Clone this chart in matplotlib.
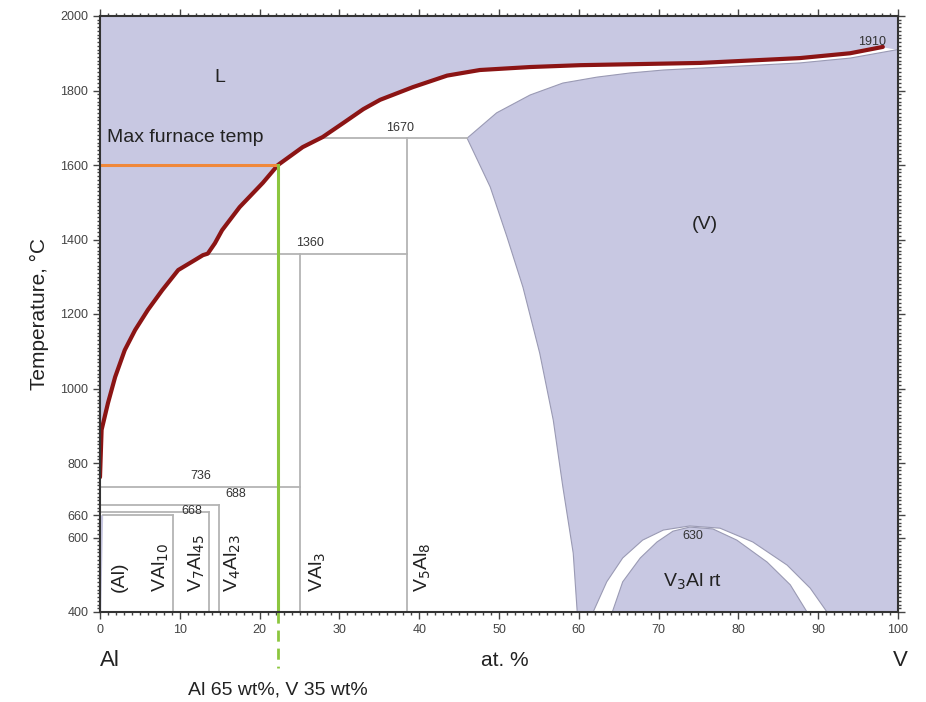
import numpy as np
import matplotlib.pyplot as plt
from matplotlib.ticker import MultipleLocator

plt.rcParams['font.family'] = ['Liberation Sans', 'DejaVu Sans']

# liquidus (at.% V, °C)
liq_x = [0, 0.2, 1.0, 1.9, 3.1, 4.4, 6.0, 7.8, 9.8, 11.9, 12.9, 13.5, 14.4, 15.3, 17.5,
         20.4, 22.3, 25.4, 27.9, 30.5, 33.0, 35.1, 39.2, 43.5, 47.6, 53.9, 60.2, 75.2,
         87.7, 94.0, 98.1]
liq_T = [762, 889, 961, 1031, 1103, 1157, 1211, 1264, 1318, 1345, 1358, 1362, 1390, 1425,
         1487, 1552, 1600, 1648, 1675, 1713, 1750, 1775, 1809, 1840, 1855, 1863, 1868, 1874,
         1887, 1900, 1917]

# (V) solid solution: solvus then solidus
solv_x = [59.8, 59.3, 58.0, 56.8, 55.1, 53.0, 51.0, 48.9, 46.0]
solv_T = [400, 558, 736, 915, 1095, 1272, 1407, 1541, 1672]
sol_x = [46.0, 49.7, 53.9, 58.0, 62.3, 66.4, 70.6, 75.2, 87.7, 94.0, 100]
sol_T = [1672, 1740, 1788, 1820, 1836, 1847, 1855, 1860, 1874, 1887, 1910]

# V3Al dome (outer two-phase boundary, inner single phase)
dome_out_x = [61.8, 63.5, 65.5, 68.0, 70.6, 73.9, 77.7, 81.8, 86.1, 89.0, 91.1]
dome_out_T = [400, 481, 545, 593, 620, 631, 625, 588, 526, 464, 400]
dome_in_x = [64.2, 65.5, 67.7, 69.8, 71.8, 73.9, 76.8, 79.8, 83.6, 86.5, 88.6]
dome_in_T = [400, 481, 545, 588, 617, 628, 623, 593, 534, 473, 400]

# invariant lines: (x_start, x_end, T)
horiz = [(0.4, 9.1, 660), (0, 13.7, 668), (0, 14.9, 688), (0, 25, 736),
         (13.5, 38.5, 1362), (28.0, 46.0, 1672)]
# compound lines: (x, T_top)
vert = [(9.1, 660), (13.7, 668), (14.9, 688), (25, 1362), (38.5, 1672)]

inv_labels = [(12.6, 748, '736'), (17.0, 700, '688'), (11.5, 654, '668'),
              (26.3, 1374, '1360'), (37.6, 1684, '1670'), (96.8, 1914, '1910'),
              (74.3, 588, '630')]
phases = [(2.4, '(Al)'), (7.6, r'VAl$_{10}$'), (12.1, r'V$_7$Al$_{45}$'),
          (16.6, r'V$_4$Al$_{23}$'), (27.3, r'VAl$_3$'), (40.5, r'V$_5$Al$_8$')]

furnace_T = 1600
alloy_x = 22.3

lav = '#c8c8e2'
grey = '#b4b4b4'
edge = '#9a9ab4'

fig = plt.figure(figsize=(9.26, 7.02), dpi=100)
ax = fig.add_axes([100 / 926, 1 - 612 / 702, 798 / 926, 596 / 702])
ax.set_xlim(0, 100)
ax.set_ylim(400, 2000)

# liquid region
ax.fill_between(liq_x + [100], liq_T + [1910], 2000, color=lav, lw=0)
# (Al)
ax.fill([0, 0.15, 0.4, 0], [400, 400, 660, 660], color=lav, lw=0)
# (V)
vx = solv_x + sol_x[1:] + [100]
vT = solv_T + sol_T[1:] + [400]
ax.fill(vx, vT, color=lav, lw=0)
ax.plot(solv_x, solv_T, color=edge, lw=0.8)
ax.plot(sol_x, sol_T, color=edge, lw=0.8)
ax.fill(dome_out_x, dome_out_T, color='white', lw=0)
ax.plot(dome_out_x, dome_out_T, color=edge, lw=0.8)
ax.fill(dome_in_x, dome_in_T, color=lav, lw=0)
ax.plot(dome_in_x, dome_in_T, color=edge, lw=0.8)

for x0, x1, t in horiz:
    ax.plot([x0, x1], [t, t], color=grey, lw=1.3)
for x, t in vert:
    ax.plot([x, x], [400, t], color=grey, lw=1.3)

ax.plot(liq_x, liq_T, color='#8b1414', lw=3, solid_capstyle='round', solid_joinstyle='round')

ax.plot([0, alloy_x], [furnace_T, furnace_T], color='#f0883a', lw=2.2)
ax.plot([alloy_x, alloy_x], [400, furnace_T], color='#8cc63f', lw=2.2)
ax.plot([alloy_x, alloy_x], [400, 250], color='#8cc63f', lw=2, ls=(0, (4, 2.5)), clip_on=False)

for x, t, s in inv_labels:
    ax.text(x, t, s, fontsize=9, color='#333333', ha='center', va='bottom')

for x, s in phases:
    ax.text(x, 455, s, rotation=90, fontsize=14, color='#222222', ha='center', va='bottom')

ax.text(15, 1834, 'L', fontsize=14, color='#222222', ha='center', va='center')
ax.text(75.8, 1440, '(V)', fontsize=14, color='#222222', ha='center', va='center')
ax.text(74.3, 480, r'V$_3$Al rt', fontsize=14, color='#222222', ha='center', va='center')
ax.text(0.9, 1650, 'Max furnace temp', fontsize=14, color='#222222', ha='left', va='bottom')

ax.xaxis.set_major_locator(MultipleLocator(10))
ax.xaxis.set_minor_locator(MultipleLocator(1))
ax.set_yticks([400, 600, 660, 800, 1000, 1200, 1400, 1600, 1800, 2000])
ax.yaxis.set_minor_locator(MultipleLocator(10))
ax.tick_params(which='both', direction='out', top=True, right=True, colors='#444444',
               labelsize=9, labelcolor='#444444', width=1)
ax.tick_params(which='major', length=5)
ax.tick_params(which='minor', length=2.5)
ax.tick_params(axis='both', labeltop=False, labelright=False)
for sp in ax.spines.values():
    sp.set_color('#333333')
    sp.set_linewidth(1.5)

ax.set_ylabel('Temperature, °C', fontsize=15, color='#222222', labelpad=8)
fig.text(110 / 926, 1 - 660 / 702, 'Al', fontsize=16, color='#222222', ha='center', va='center')
fig.text(505 / 926, 1 - 660 / 702, 'at. %', fontsize=15, color='#222222', ha='center', va='center')
fig.text(900 / 926, 1 - 660 / 702, 'V', fontsize=16, color='#222222', ha='center', va='center')
fig.text(278 / 926, 1 - 690 / 702, 'Al 65 wt%, V 35 wt%', fontsize=14, color='#222222',
         ha='center', va='center')

fig.savefig('out.png', dpi=100, facecolor='white')
